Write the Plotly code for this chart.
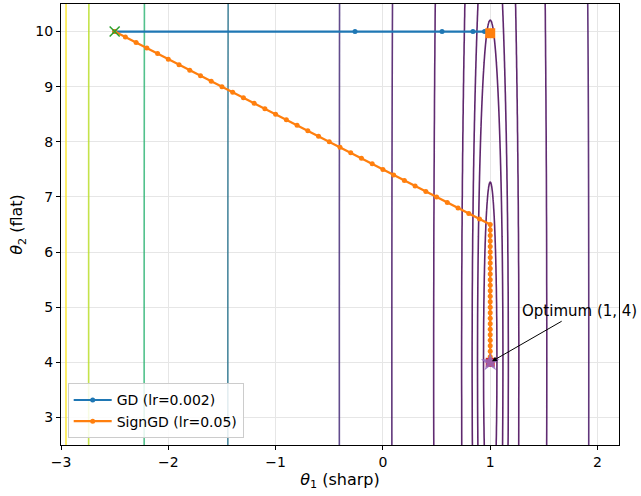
import numpy as np
import plotly.graph_objects as go
from plotly.colors import sample_colorscale

# ---------------- data ----------------
SHARP = 2750.0   # curvature along theta1 (relative)
FLAT = 1.0       # curvature along theta2 (relative)
OPT = [1.0, 4.0]
LEVELS = [10.64, 38.5, 78, 195, 763, 2305, 5431, 16442, 28622, 38530, 42931]

GD_T1 = [-2.5, -0.26, 0.551, 0.839, 0.947, 0.981, 0.993, 0.998, 1.0]
GD_T2 = [10.0, 10.0, 10.0, 10.0, 10.0, 10.0, 10.0, 10.0, 9.97]

SIGN_T1 = [-2.5, -2.4, -2.3, -2.2, -2.1, -2.0, -1.9, -1.8, -1.7, -1.6, -1.5, -1.4,
           -1.3, -1.2, -1.1, -1.0, -0.9, -0.8, -0.7, -0.6, -0.5, -0.4, -0.3, -0.2,
           -0.1, 0.0, 0.1, 0.2, 0.3, 0.4, 0.5, 0.6, 0.7, 0.8, 0.9, 1.0,
           1.0, 1.0, 1.0, 1.0, 1.0, 1.0, 1.0, 1.0, 1.0, 1.0, 1.0, 1.0, 1.0,
           1.0, 1.0, 1.0, 1.0, 1.0, 1.0, 1.0, 1.0, 1.0, 1.0, 1.0, 1.0]
SIGN_T2 = [10.0, 9.9, 9.8, 9.7, 9.6, 9.5, 9.4, 9.3, 9.2, 9.1, 9.0, 8.9,
           8.8, 8.7, 8.6, 8.5, 8.4, 8.3, 8.2, 8.1, 8.0, 7.9, 7.8, 7.7,
           7.6, 7.5, 7.4, 7.3, 7.2, 7.1, 7.0, 6.9, 6.8, 6.7, 6.6, 6.5,
           6.4, 6.3, 6.2, 6.1, 6.0, 5.9, 5.8, 5.7, 5.6, 5.5, 5.4, 5.3, 5.2,
           5.1, 5.0, 4.9, 4.8, 4.7, 4.6, 4.5, 4.4, 4.3, 4.2, 4.1, 4.0]

START = [-2.5, 10.0]
GD_END = [1.0, 9.97]
SIGN_END = [1.0, 4.0]

XTICKS = [-3, -2, -1, 0, 1, 2]
XTICKTEXT = ["\u22123", "\u22122", "\u22121", "0", "1", "2"]
YTICKS = [3, 4, 5, 6, 7, 8, 9, 10]
XRANGE = [-3.0, 2.2]
YRANGE = [2.5, 10.5]

FONT = "DejaVu Sans"

# ---------------- contour field ----------------
x = np.unique(np.concatenate([np.linspace(-3.4, 0.4, 180),
                              np.linspace(0.4, 1.6, 601),
                              np.linspace(1.6, 2.3, 40)]))
y = np.linspace(2.4, 10.6, 206)
X, Y = np.meshgrid(x, y)
F = SHARP * (X - OPT[0]) ** 2 + FLAT * (Y - OPT[1]) ** 2
n = len(LEVELS)
# map the (unevenly spaced) level values onto integer indices 0..n-1
Zi = np.interp(F, [0.0] + LEVELS + [1.5 * max(LEVELS)], np.arange(-1, n + 1))
Zi = np.round(Zi, 4)

lmin, lmax = min(LEVELS), max(LEVELS)
tvals = [(l - lmin) / (lmax - lmin) for l in LEVELS]
cols = sample_colorscale("Viridis", tvals)
# contour levels 0..n (the extra level n never occurs in the field)
cscale = [[k / n, cols[k]] for k in range(n)] + [[1.0, cols[-1]]]

fig = go.Figure()
fig.add_trace(go.Contour(
    x=np.round(x, 5), y=np.round(y, 5), z=Zi,
    autocontour=False,
    contours=dict(start=0, end=n, size=1, coloring="lines"),
    colorscale=cscale, zmin=0, zmax=n, zauto=False,
    showscale=False, line=dict(width=1.6), opacity=0.85,
    hoverinfo="skip", showlegend=False,
))

fig.add_trace(go.Scatter(
    x=GD_T1, y=GD_T2, mode="lines+markers", name="GD (lr=0.002)",
    line=dict(color="#1f77b4", width=2.2),
    marker=dict(size=5, color="#1f77b4"),
))
fig.add_trace(go.Scatter(
    x=[GD_END[0]], y=[GD_END[1]], mode="markers", showlegend=False,
    marker=dict(symbol="square", size=10, color="#ff7f0e"),
))
fig.add_trace(go.Scatter(
    x=SIGN_T1, y=SIGN_T2, mode="lines+markers", name="SignGD (lr=0.05)",
    line=dict(color="#ff7f0e", width=2.2),
    marker=dict(size=5, color="#ff7f0e"),
))
fig.add_trace(go.Scatter(
    x=[SIGN_END[0]], y=[SIGN_END[1]], mode="markers", showlegend=False,
    marker=dict(symbol="square", size=9, color="#d62728"),
))
fig.add_trace(go.Scatter(
    x=[OPT[0]], y=[OPT[1]], mode="markers", showlegend=False,
    marker=dict(symbol="star", size=14, color="rgba(148,103,189,0.85)"),
))
fig.add_trace(go.Scatter(
    x=[START[0]], y=[START[1]], mode="markers", showlegend=False,
    marker=dict(symbol="x-thin", size=10, line=dict(width=1.5, color="#2ca02c")),
))

fig.add_annotation(
    x=OPT[0], y=OPT[1], ax=1.836, ay=4.936, axref="x", ayref="y",
    xref="x", yref="y", text="Optimum (1, 4)", showarrow=True,
    arrowhead=2, arrowsize=1, arrowwidth=1, arrowcolor="black", standoff=2,
    font=dict(family=FONT, size=15, color="black"),
)

axis_common = dict(
    ticks="outside", ticklen=4, tickcolor="black", tickwidth=1,
    showline=True, linecolor="black", linewidth=1, mirror=True,
    showgrid=True, gridcolor="#e6e6e6", gridwidth=1, zeroline=False,
    tickfont=dict(family=FONT, size=14, color="black"),
    automargin=False,
)
fig.update_xaxes(range=XRANGE, tickvals=XTICKS, ticktext=XTICKTEXT,
                 title=dict(text="<i>θ</i><sub>1</sub> (sharp)",
                            font=dict(family=FONT, size=16, color="black"), standoff=4),
                 **axis_common)
fig.update_yaxes(range=YRANGE, tickvals=YTICKS,
                 title=dict(text="<i>θ</i><sub>2</sub> (flat)",
                            font=dict(family=FONT, size=16, color="black"), standoff=8),
                 **axis_common)

fig.update_layout(
    width=641, height=496,
    margin=dict(l=61, r=22, t=4, b=51),
    plot_bgcolor="white", paper_bgcolor="white",
    font=dict(family=FONT, size=14, color="black"),
    legend=dict(x=0.012, y=0.015, xanchor="left", yanchor="bottom",
                bordercolor="#cccccc", borderwidth=1, itemwidth=38,
                bgcolor="rgba(255,255,255,0.85)",
                font=dict(family=FONT, size=14, color="black")),
)

fig.write_html("out.html", config={"displayModeBar": False},
               post_script="document.body.style.margin='0px';document.body.style.overflow='hidden';")
